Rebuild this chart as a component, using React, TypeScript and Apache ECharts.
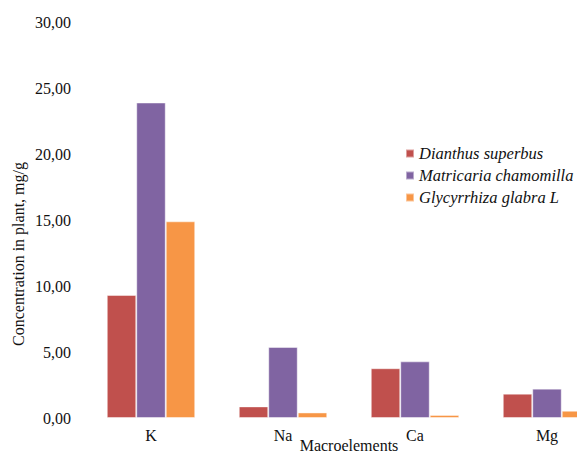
import React, { useEffect, useRef } from "react";
import * as echarts from "echarts";

const categories = ["K", "Na", "Ca", "Mg"];
const seriesNames = ["Dianthus superbus", "Matricaria chamomilla", "Glycyrrhiza glabra L"];
const dianthus = [9.32, 0.88, 3.77, 1.84];
const matricaria = [23.9, 5.38, 4.29, 2.22];
const glycyrrhiza = [14.9, 0.42, 0.23, 0.55];
const colors = ["#C0504D", "#8064A2", "#F79646"];

const FONT = "'Liberation Serif', 'Times New Roman', serif";

export default function App() {
  const ref = useRef<HTMLDivElement>(null);
  useEffect(() => {
    document.body.style.margin = "0";
    const chart = echarts.init(ref.current!, null, { renderer: "svg" });
    const data = [dianthus, matricaria, glycyrrhiza];
    chart.setOption({
      animation: false,
      backgroundColor: "#fff",
      textStyle: { fontFamily: FONT },
      grid: {
        left: 85,
        right: -36,
        top: 22,
        bottom: 35,
        containLabel: false,
        outerBoundsMode: "none",
      },
      legend: {
        orient: "vertical",
        left: 400,
        top: 140,
        itemWidth: 8,
        itemHeight: 8,
        itemGap: 5,
        icon: "rect",
        data: seriesNames,
        textStyle: { fontFamily: FONT, fontStyle: "italic", fontSize: 16.5, color: "#111" },
      },
      xAxis: {
        type: "category",
        data: categories,
        axisLine: { show: false },
        axisTick: { show: false },
        axisLabel: { fontFamily: FONT, fontSize: 16, color: "#111", margin: 9 },
        name: "Macroelements",
        nameLocation: "middle",
        nameGap: 19,
        nameMoveOverlap: false,
        nameTextStyle: { fontFamily: FONT, fontSize: 16, color: "#111" },
      },
      yAxis: {
        type: "value",
        min: 0,
        max: 30,
        interval: 5,
        splitLine: { show: false },
        axisLine: { show: false },
        axisTick: { show: false },
        axisLabel: {
          fontFamily: FONT,
          fontSize: 16,
          color: "#111",
          margin: 14,
          formatter: (v: number) => v.toFixed(2).replace(".", ","),
        },
      },
      graphic: [
        {
          type: "text",
          x: 18,
          y: 254,
          rotation: Math.PI / 2,
          style: {
            text: "Concentration in plant, mg/g",
            fontFamily: FONT,
            fontSize: 16,
            fill: "#111",
            textAlign: "center",
            textVerticalAlign: "middle",
          },
        },
      ],
      series: seriesNames.map((name, i) => ({
        name,
        type: "bar",
        data: data[i],
        barGap: "0%",
        barCategoryGap: "33%",
        itemStyle: { color: colors[i], borderColor: "rgba(255,255,255,0.45)", borderWidth: 1 },
      })),
    });
    return () => chart.dispose();
  }, []);
  return <div ref={ref} style={{ width: 577, height: 453 }} />;
}
